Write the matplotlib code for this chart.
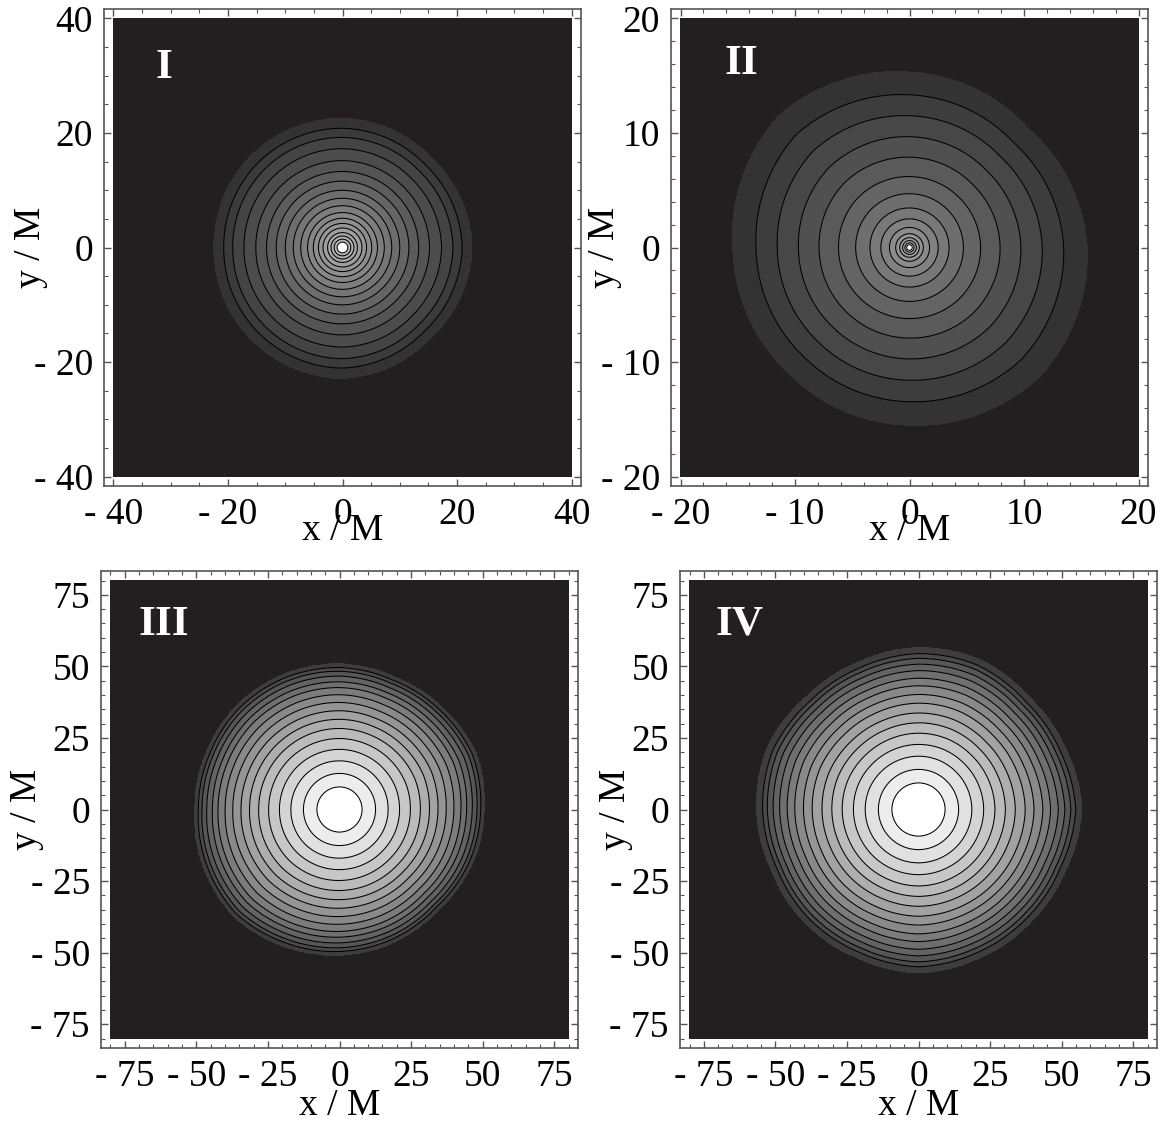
import numpy as np
import matplotlib.pyplot as plt
from matplotlib.ticker import MultipleLocator, FuncFormatter

plt.rcParams['font.family'] = ['Liberation Serif', 'DejaVu Serif']

# contour radii in units of M, outer edge of the faint band first, white core last
radii_I = [22.6, 20.9, 19.3, 17.3, 15.2, 13.3, 11.6, 10.0, 8.6, 7.3,
           6.1, 5.1, 4.2, 3.4, 2.6, 2.0, 1.45, 0.95]
radii_II = [15.4, 13.4, 11.55, 9.7, 7.9, 6.2, 4.7, 3.45, 2.5, 1.75,
            1.2, 0.85, 0.6, 0.4, 0.25]
radii_III = [50.8, 49.6, 48.3, 46.6, 44.6, 42.6, 40.1, 37.4, 34.5, 31.5,
             28.3, 24.8, 21.0, 17.0, 12.6, 7.9]
radii_IV = [56.0, 54.0, 52.4, 50.4, 48.2, 45.6, 43.0, 40.0, 37.0, 33.6,
            30.2, 26.6, 22.7, 18.6, 14.0, 9.3]

# radius of the outer edge around the centre (angle in degrees)
angles_8 = [0, 45, 90, 135, 180, 225, 270, 315]
angles_16 = [0, 22.5, 45, 67.5, 90, 112.5, 135, 157.5,
             180, 202.5, 225, 247.5, 270, 292.5, 315, 337.5]
edge_I = [22.6, 22.0, 22.5, 22.6, 22.4, 22.6, 22.8, 22.0]
edge_II = [15.5, 14.6, 15.3, 16.2, 15.4, 15.2, 15.5, 16.0]
edge_III = [50.5, 51.5, 50.5, 50.0, 50.8, 51.0, 51.0, 50.5,
            50.5, 51.5, 52.5, 51.5, 50.8, 50.0, 49.0, 50.0]
edge_IV = [57.0, 55.5, 55.0, 56.5, 56.5, 55.5, 55.5, 57.0,
           56.5, 55.5, 56.0, 56.0, 57.0, 56.0, 55.5, 55.5]

# grey of the outermost band and of the band just outside the white core
grey_lo = [0.20, 0.20, 0.24, 0.24]
grey_hi = [0.72, 0.70, 0.93, 0.93]

panels = [
    # label, half width, major, minor, radii, angles, edge
    ('I', 40, 20, 5, radii_I, angles_8, edge_I),
    ('II', 20, 10, 2, radii_II, angles_8, edge_II),
    ('III', 80, 25, 5, radii_III, angles_16, edge_III),
    ('IV', 80, 25, 5, radii_IV, angles_16, edge_IV),
]

# frame boxes in pixels: left, top, width, height
boxes = [(104, 9, 477, 477), (671, 9, 477, 477),
         (101, 571, 477, 477), (680, 571, 477, 477)]
ylab_x = [-0.135, -0.12, -0.136, -0.115]
xlab_y = [-0.113, -0.113, -0.140, -0.140]
tag_pos = [(0.126, 0.876), (0.147, 0.884), (0.132, 0.887), (0.124, 0.887)]

W, H = 1162, 1121
fig = plt.figure(figsize=(W / 100, H / 100), dpi=100)


def field(X, Y, radii, ang, edge):
    r = np.hypot(X, Y)
    th = np.degrees(np.arctan2(Y, X)) % 360
    s = np.interp(th, ang, np.asarray(edge) / radii[0], period=360)
    w = np.clip(r / radii[0], 0, 1) ** 2
    reff = r / (1 + (s - 1) * w)
    n = len(radii)
    rr = np.r_[0, radii[::-1], 3 * radii[0]]
    lv = np.r_[n + 1, np.arange(n, 0, -1), 0]
    return np.interp(reff, rr, lv)


def tick_fmt(v, pos):
    if v < 0:
        return '- %d' % abs(v)
    return '%d' % v


for (lab, D, maj, mnr, radii, ang, edge), (l, t, w, h), yx, xy, tp, g0, g1 in zip(
        panels, boxes, ylab_x, xlab_y, tag_pos, grey_lo, grey_hi):
    ax = fig.add_axes([l / W, 1 - (t + h) / H, w / W, h / H])
    g = np.linspace(-D, D, 700)
    X, Y = np.meshgrid(g, g)
    Z = field(X, Y, radii, ang, edge)
    n = len(radii)
    greys = [str(g0 + (g1 - g0) * k / (n - 2)) for k in range(n - 1)] + ['1.0']
    ax.contourf(X, Y, Z, levels=[-1] + list(range(1, n + 1)) + [n + 2],
                colors=['#231f20'] + greys)
    ax.contour(X, Y, Z, levels=list(range(2, n + 1)), colors='k',
               linewidths=0.75)

    pad = D * (477 / 458 - 1)
    ax.set_xlim(-D - pad, D + pad)
    ax.set_ylim(-D - pad, D + pad)
    ax.set_aspect('auto')
    for ln in [ax.xaxis, ax.yaxis]:
        ln.set_major_locator(MultipleLocator(maj))
        ln.set_minor_locator(MultipleLocator(mnr))
        ln.set_major_formatter(FuncFormatter(tick_fmt))
    ax.tick_params(which='both', direction='in', top=True, right=True,
                   color='#555555', labelsize=27, pad=8)
    ax.tick_params(which='major', length=5, width=1.0)
    ax.tick_params(which='minor', length=3, width=0.8)
    for sp in ax.spines.values():
        sp.set_color('#555555')
        sp.set_linewidth(1.2)

    ax.text(0.5, xy, 'x / M', transform=ax.transAxes, ha='center',
            va='baseline', fontsize=27)
    ax.text(yx, 0.5, 'y / M', transform=ax.transAxes, rotation=90,
            rotation_mode='anchor', ha='center', va='baseline', fontsize=27)
    ax.text(tp[0], tp[1], lab, transform=ax.transAxes, ha='center',
            va='center', fontsize=31, fontweight='bold', color='white')

fig.savefig('out.png', dpi=100)
